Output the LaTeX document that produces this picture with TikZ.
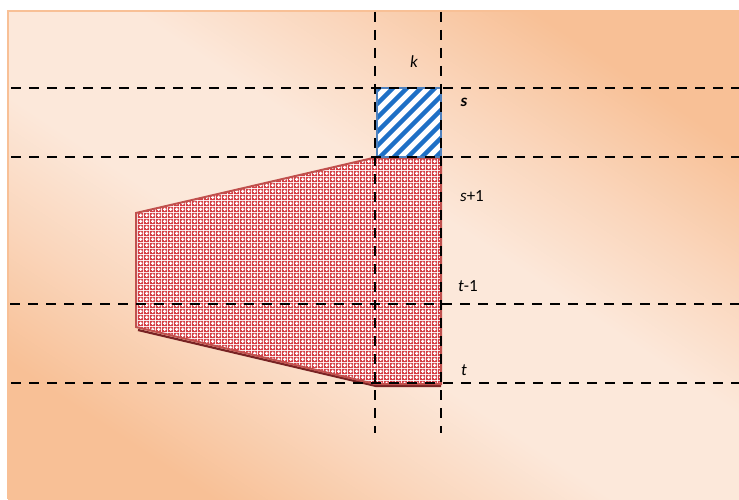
\documentclass[tikz,border=0pt]{standalone}
\usepackage{fontspec}
\setmainfont{Carlito}
\usetikzlibrary{patterns}
\definecolor{bgorange}{RGB}{248,192,150}
\definecolor{bgmid}{RGB}{250,214,188}
\definecolor{bglight}{RGB}{252,232,218}
\definecolor{redline}{RGB}{192,80,77}
\definecolor{redshadow}{RGB}{120,35,35}
\definecolor{redpat}{RGB}{212,62,68}
\definecolor{blueline}{RGB}{79,129,189}
\definecolor{bluestripe}{RGB}{30,112,198}
\pgfdeclareverticalshading{bgshade}{100bp}{color(0bp)=(bgorange); color(25bp)=(bgorange); color(35bp)=(bgmid); color(44bp)=(bglight); color(56bp)=(bglight); color(65bp)=(bgmid); color(75bp)=(bgorange); color(100bp)=(bgorange)}
\pgfdeclarepatternformonly{redplus}{\pgfpointorigin}{\pgfqpoint{6pt}{6pt}}{\pgfqpoint{6pt}{6pt}}{%
  \pgfseteorule
  \pgfpathrectangle{\pgfpointorigin}{\pgfqpoint{6pt}{6pt}}%
  \pgfpathmoveto{\pgfqpoint{2.2pt}{1pt}}%
  \pgfpathlineto{\pgfqpoint{3.8pt}{1pt}}%
  \pgfpathlineto{\pgfqpoint{3.8pt}{2.2pt}}%
  \pgfpathlineto{\pgfqpoint{5pt}{2.2pt}}%
  \pgfpathlineto{\pgfqpoint{5pt}{3.8pt}}%
  \pgfpathlineto{\pgfqpoint{3.8pt}{3.8pt}}%
  \pgfpathlineto{\pgfqpoint{3.8pt}{5pt}}%
  \pgfpathlineto{\pgfqpoint{2.2pt}{5pt}}%
  \pgfpathlineto{\pgfqpoint{2.2pt}{3.8pt}}%
  \pgfpathlineto{\pgfqpoint{1pt}{3.8pt}}%
  \pgfpathlineto{\pgfqpoint{1pt}{2.2pt}}%
  \pgfpathlineto{\pgfqpoint{2.2pt}{2.2pt}}%
  \pgfpathclose
  \pgfusepath{fill}}
\begin{document}
\begin{tikzpicture}[x=1pt,y=-1pt,
  grid/.style={black,line width=2pt,dash pattern=on 10pt off 8pt},
  lab/.style={font=\fontsize{17}{20}\selectfont,inner sep=0pt}]
\useasboundingbox (0,0) rectangle (739,500);
% background
\shade[shading=bgshade,shading angle=146.3] (8,11) rectangle (739,499);
\draw[bgorange,line width=2pt] (8,499) -- (8,11) -- (739,11);
% named corners
\coordinate (a) at (136,213);
\coordinate (b) at (373,158);
\coordinate (c) at (441,158);
\coordinate (d) at (441,384);
\coordinate (e) at (375,384);
\coordinate (f) at (136,327);
% shadow
\draw[redshadow,line width=2.2pt,line join=round] ([shift={(2,3)}]f) -- ([shift={(1,2)}]e) -- ([shift={(0,2)}]d);
% red shape
\fill[white] (a) -- (b) -- (c) -- (d) -- (e) -- (f) -- cycle;
\fill[pattern=redplus,pattern color=redpat] (a) -- (b) -- (c) -- (d) -- (e) -- (f) -- cycle;
\draw[redline,line width=2pt,line join=miter] (a) -- (b) -- (c) -- (d) -- (e) -- (f) -- cycle;
% blue square
\coordinate (bl) at (377,157);
\coordinate (tr) at (441,88);
\fill[white] (bl) rectangle (tr);
\begin{scope}
  \clip (bl) rectangle (tr);
  \foreach \o in {-84,-70,...,84}
    \draw[bluestripe,line width=4.5pt] (377+\o,160) -- (377+\o+75,85);
\end{scope}
\draw[blueline,line width=2pt] (bl) rectangle (tr);
% dashed grid
\coordinate (h1l) at (11,88);  \coordinate (h1r) at (739,88);
\coordinate (h2l) at (11,157); \coordinate (h2r) at (739,157);
\coordinate (h3l) at (10,304); \coordinate (h3r) at (739,304);
\coordinate (h4l) at (11,383); \coordinate (h4r) at (739,383);
\coordinate (v1t) at (375,12); \coordinate (v1b) at (375,433);
\coordinate (v2t) at (441,12); \coordinate (v2b) at (441,433);
\draw[grid] (h1l) -- (h1r);
\draw[grid] (h2l) -- (h2r);
\draw[grid] (h3l) -- (h3r);
\draw[grid] (h4l) -- (h4r);
\draw[grid] (v1t) -- (v1b);
\draw[grid] (v2t) -- (v2b);
% labels
\node[lab] (k) at (414,62) {\textit{k}};
\node[lab] (s) at (464,102) {\textbf{\textit{s}}};
\node[lab] (s1) at (472,196) {\textit{s}+1};
\node[lab] (t1) at (468,286) {\textit{t}-1};
\node[lab] (t) at (464,370) {\textit{t}};
\end{tikzpicture}
\end{document}
